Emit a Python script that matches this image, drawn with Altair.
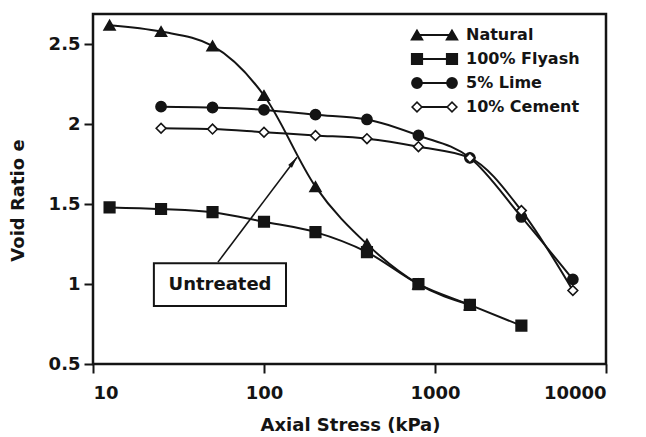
import altair as alt
import pandas as pd

# Oedometer results: void ratio against axial stress for each treatment
series = ["Natural", "100% Flyash", "5% Lime", "10% Cement"]

natural_stress = [12.5, 25, 50, 100, 200, 400, 800, 1600]
natural_void = [2.62, 2.58, 2.49, 2.18, 1.61, 1.25, 1.00, 0.87]

flyash_stress = [12.5, 25, 50, 100, 200, 400, 800, 1600, 3200]
flyash_void = [1.48, 1.47, 1.45, 1.39, 1.325, 1.20, 1.00, 0.87, 0.74]

lime_stress = [25, 50, 100, 200, 400, 800, 1600, 3200, 6400]
lime_void = [2.11, 2.105, 2.09, 2.06, 2.03, 1.93, 1.79, 1.42, 1.03]

cement_stress = [25, 50, 100, 200, 400, 800, 1600, 3200, 6400]
cement_void = [1.975, 1.97, 1.95, 1.93, 1.91, 1.86, 1.79, 1.46, 0.96]

x_ticks = [10, 100, 1000, 10000]
y_ticks = [0.5, 1, 1.5, 2, 2.5]

# "Untreated" call-out: box corners, label and arrow, in data units
box_stress = [22.7, 134.5]
box_void = [0.8625, 1.131]
label_stress = 55.3
label_void = 0.994
label_text = "Untreated"
arrow_from = (53.8, 1.1375)
arrow_to = (156, 1.794)

rows = []
for name, xs, ys in [
    (series[0], natural_stress, natural_void),
    (series[1], flyash_stress, flyash_void),
    (series[2], lime_stress, lime_void),
    (series[3], cement_stress, cement_void),
]:
    for s, v in zip(xs, ys):
        rows.append({"series": name, "stress": s, "void": v})
df = pd.DataFrame(rows)

FONT = "DejaVu Sans"
INK = "#141414"

shape_scale = alt.Scale(domain=series, range=["triangle-up", "square", "circle", "diamond"])
fill_scale = alt.Scale(domain=series, range=[INK, INK, INK, "white"])
size_scale = alt.Scale(domain=series, range=[120, 95, 105, 85])

x_enc = alt.X(
    "stress:Q",
    scale=alt.Scale(type="log", domain=[10, 10000], nice=False),
    axis=alt.Axis(
        values=x_ticks, format="d", title="Axial Stress (kPa)",
        titleX=257, titleY=61, titleBaseline="middle", titleAlign="center",
        titleFontSize=18, labelPadding=11,
    ),
)
y_enc = alt.Y(
    "void:Q",
    scale=alt.Scale(domain=[0.5, 2.69], nice=False, zero=False),
    axis=alt.Axis(
        values=y_ticks, format="~g", title="Void Ratio e",
        titleX=-75, titleY=186, titleBaseline="middle", titleAlign="center", titleAngle=-90,
        titleFontSize=18, labelPadding=4,
    ),
)

lines = alt.Chart(df).mark_line(color=INK, strokeWidth=2, interpolate="monotone").encode(
    x=x_enc, y=y_enc, detail="series:N"
)

points = alt.Chart(df).mark_point(filled=False, stroke=INK, strokeWidth=1.6, opacity=1).encode(
    x="stress:Q",
    y="void:Q",
    shape=alt.Shape("series:N", scale=shape_scale, legend=None),
    fill=alt.Fill("series:N", scale=fill_scale, legend=None),
    size=alt.Size("series:N", scale=size_scale, legend=None),
)

# Call-out box, label and arrow
box_df = pd.DataFrame({"x": [box_stress[0]], "x2": [box_stress[1]], "y": [box_void[0]], "y2": [box_void[1]]})
box = alt.Chart(box_df).mark_rect(fill="white", stroke=INK, strokeWidth=2).encode(
    x="x:Q", x2="x2:Q", y="y:Q", y2="y2:Q"
)
label = alt.Chart(pd.DataFrame({"x": [label_stress], "y": [label_void], "t": [label_text]})).mark_text(
    font=FONT, fontWeight="bold", fontSize=18, color=INK
).encode(x="x:Q", y="y:Q", text="t:N")

arrow_df = pd.DataFrame({"x": [arrow_from[0]], "y": [arrow_from[1]], "x2": [arrow_to[0]], "y2": [arrow_to[1]]})
arrow_line = alt.Chart(arrow_df).mark_rule(color=INK, strokeWidth=1.6).encode(
    x="x:Q", y="y:Q", x2="x2:Q", y2="y2:Q"
)
arrow_head = alt.Chart(pd.DataFrame({"x": [arrow_to[0]], "y": [arrow_to[1]]})).mark_point(
    shape="M0,0L0.45,2.2L-0.45,2.2Z", filled=True, color=INK, size=110, angle=37, opacity=1
).encode(x="x:Q", y="y:Q")

# Legend: short line with a marker at each end, then the series name
leg_df = pd.DataFrame({"series": series, "row": list(range(len(series)))})
leg_base = alt.Chart(leg_df).transform_calculate(ly="21 + 24 * datum.row")
leg_y = alt.Y("ly:Q", scale=None)
leg_line = leg_base.mark_rule(color=INK, strokeWidth=2).encode(
    x=alt.value(324), x2=alt.value(359), y=leg_y
)
leg_marks = []
for px in (324, 359):
    leg_marks.append(
        leg_base.mark_point(filled=False, stroke=INK, strokeWidth=1.6, opacity=1).encode(
            x=alt.value(px),
            y=leg_y,
            shape=alt.Shape("series:N", scale=shape_scale, legend=None),
            fill=alt.Fill("series:N", scale=fill_scale, legend=None),
            size=alt.Size("series:N", scale=size_scale, legend=None),
        )
    )
leg_text = leg_base.mark_text(
    align="left", baseline="middle", font=FONT, fontWeight="bold", fontSize=16, color=INK
).encode(x=alt.value(373), y=leg_y, text="series:N")

chart = (
    alt.layer(lines, points, arrow_line, arrow_head, box, label, leg_line, *leg_marks, leg_text)
    .properties(
        width=513,
        height=350,
        autosize=alt.AutoSizeParams(type="none"),
        padding={"left": 93, "top": 14, "right": 40, "bottom": 73},
        background="white",
    )
    .configure_view(stroke=INK, strokeWidth=2.5)
    .configure_axis(
        domain=False,
        grid=False,
        ticks=True,
        tickColor=INK,
        tickWidth=2,
        tickSize=9,
        labelFont=FONT,
        labelFontWeight="bold",
        labelFontSize=18,
        labelColor=INK,
        titleFont=FONT,
        titleFontWeight="bold",
        titleColor=INK,
    )
)

chart.save("out.html", embed_options={"renderer": "svg", "actions": False})
